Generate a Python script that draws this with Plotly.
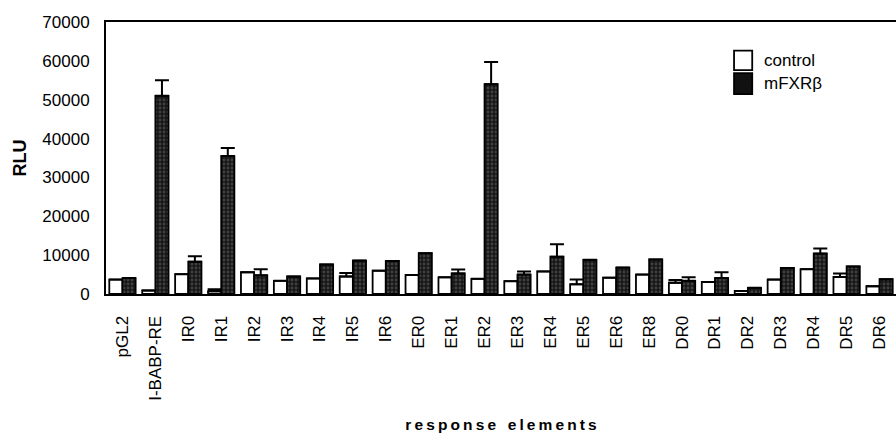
import plotly.graph_objects as go

categories = ["pGL2", "I-BABP-RE", "IR0", "IR1", "IR2", "IR3", "IR4", "IR5", "IR6",
              "ER0", "ER1", "ER2", "ER3", "ER4", "ER5", "ER6", "ER8",
              "DR0", "DR1", "DR2", "DR3", "DR4", "DR5", "DR6"]

control = [3700, 900, 5100, 700, 5600, 3400, 4000, 4500, 6000,
           4900, 4300, 3900, 3300, 5800, 2500, 4200, 5000,
           2900, 3100, 800, 3700, 6400, 4400, 2000]
control_err = [0, 0, 0, 500, 0, 0, 0, 900, 0,
               0, 0, 0, 0, 0, 1200, 0, 0,
               700, 0, 0, 0, 0, 900, 0]

mfxr = [4100, 51000, 8300, 35500, 4800, 4500, 7600, 8600, 8500,
        10500, 5300, 54000, 5000, 9600, 8800, 6800, 8900,
        3400, 4100, 1600, 6700, 10400, 7100, 3800]
mfxr_err = [0, 4000, 1400, 2100, 1600, 0, 0, 0, 0,
            0, 1000, 5700, 800, 3200, 0, 0, 0,
            900, 1500, 0, 0, 1300, 0, 0]

series_names = ["control", "mFXRβ"]
zeros = [0] * len(categories)
FONT = "Liberation Sans, Arial, sans-serif"
TS = "\u2009"

fig = go.Figure()
fig.add_trace(go.Bar(
    x=categories, y=control, name=series_names[0],
    marker=dict(color="white", line=dict(color="black", width=1.8)),
    error_y=dict(type="data", symmetric=False, array=control_err, arrayminus=zeros,
                 color="black", thickness=2, width=7),
))
fig.add_trace(go.Bar(
    x=categories, y=mfxr, name=series_names[1],
    marker=dict(color="#2e2e2e", line=dict(color="black", width=1.8),
                pattern=dict(shape=".", fgcolor="#6a6a6a", bgcolor="#161616", size=4, solidity=0.4)),
    error_y=dict(type="data", symmetric=False, array=mfxr_err, arrayminus=zeros,
                 color="black", thickness=2, width=7),
))

# hand-drawn legend (larger swatches as in the original)
fig.add_shape(type="rect", xref="paper", yref="paper", x0=0.795, x1=0.818, y0=0.823, y1=0.895,
              line=dict(color="black", width=1.8), fillcolor="white")
fig.add_shape(type="rect", xref="paper", yref="paper", x0=0.795, x1=0.818, y0=0.735, y1=0.812,
              line=dict(color="black", width=1.8), fillcolor="#111111")
fig.add_annotation(xref="paper", yref="paper", x=0.830, y=0.857, text=series_names[0],
                   showarrow=False, xanchor="left", yanchor="middle", font=dict(size=17, family=FONT))
fig.add_annotation(xref="paper", yref="paper", x=0.830, y=0.775, text=series_names[1],
                   showarrow=False, xanchor="left", yanchor="middle", font=dict(size=17, family=FONT))

xtitle = TS.join("response") + "\u00a0" + TS + "\u00a0" + TS.join("elements")

fig.update_layout(
    width=896, height=433,
    margin=dict(l=106, r=0, t=22, b=139),
    paper_bgcolor="white", plot_bgcolor="white",
    barmode="group", bargap=0.2, bargroupgap=0,
    font=dict(family=FONT, color="black", size=14),
    showlegend=False,
    xaxis=dict(
        range=[-0.5, len(categories) - 0.5],
        showline=True, linecolor="black", linewidth=2, mirror=True,
        ticks="", tickangle=-90, tickfont=dict(size=17, family=FONT), ticklabelstandoff=13,
        title=dict(text="<b>" + xtitle + "</b>", font=dict(size=15.5, family=FONT), standoff=20),
        showgrid=False,
    ),
    yaxis=dict(
        range=[0, 70000], dtick=10000, tickformat="d",
        showline=True, linecolor="black", linewidth=2, mirror=False,
        ticks="", ticklabelstandoff=11, tickfont=dict(size=17, family=FONT),
        title=dict(text="<b>RLU</b>", font=dict(size=18, family=FONT), standoff=11),
        showgrid=False, zeroline=False,
    ),
)

fig.write_html("out.html",
               config={"displayModeBar": False},
               post_script="document.body.style.margin='0';document.body.style.overflow='hidden';window.dispatchEvent(new Event('resize'));")
